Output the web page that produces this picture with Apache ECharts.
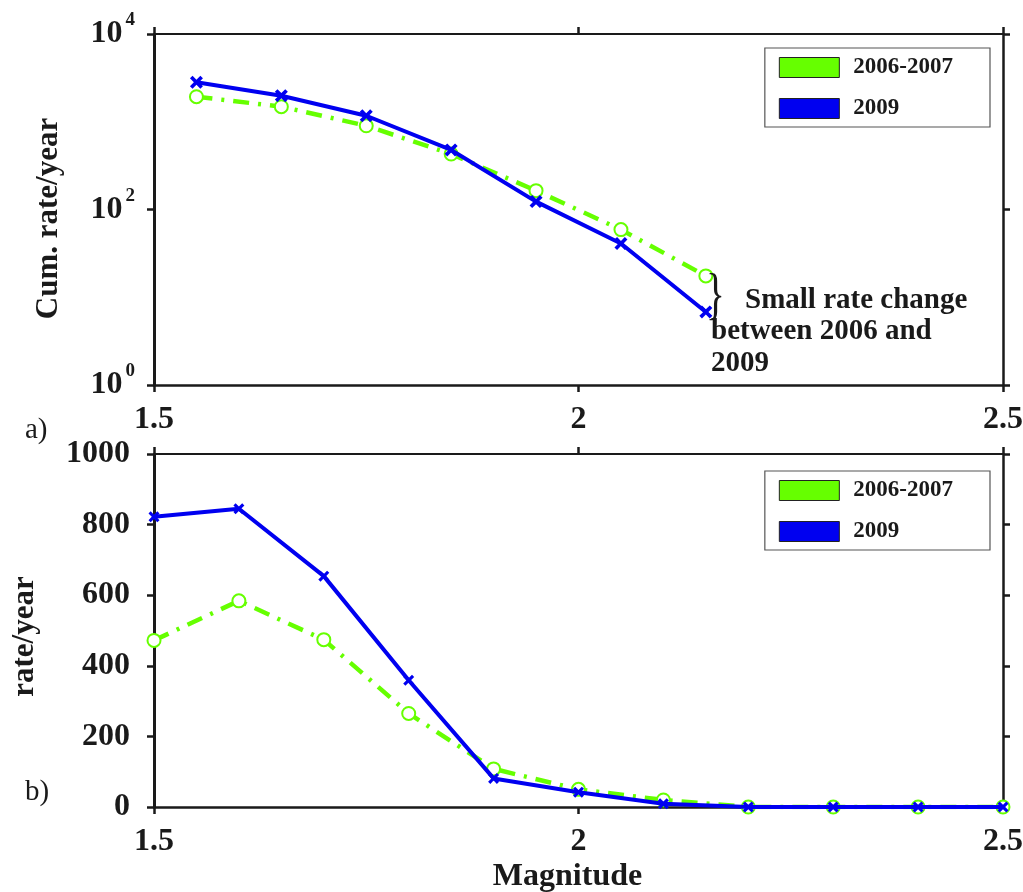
<!DOCTYPE html>
<html>
<head>
<meta charset="utf-8">
<title>Magnitude rates 2006-2007 vs 2009</title>
<script src="https://cdn.jsdelivr.net/npm/echarts@6/dist/echarts.min.js"></script>
<style>
  html, body { margin: 0; padding: 0; background: #ffffff; }
  #chart { width: 1023px; height: 892px; }
</style>
</head>
<body>
<div id="chart"></div>
<script>
// Series names
const seriesNames = ['2006-2007', '2009'];

// a) cumulative rate per year, plotted at bin centres
const cumMagnitudes = [1.55, 1.65, 1.75, 1.85, 1.95, 2.05, 2.15];
const cumRate2006 = [1930, 1485, 900, 429, 164, 59, 17.5];
const cumRate2009 = [2820, 1980, 1170, 477, 123, 41, 6.8];

// b) rate per year for each magnitude bin
const binMagnitudes = [1.5, 1.6, 1.7, 1.8, 1.9, 2.0, 2.1, 2.2, 2.3, 2.4, 2.5];
const rate2006 = [472, 584, 474, 265, 108, 50, 20, 0, 0, 0, 0];
const rate2009 = [822, 845, 654, 359, 81, 42, 9, 0, 0, 0, 0];

// Axis ticks
const magnitudeTicks = [1.5, 2, 2.5];
const logTicks = [1, 100, 10000];
const rateTicks = [0, 200, 400, 600, 800, 1000];

// Annotation in panel a)
const noteLines = ['Small rate change', 'between 2006 and', '2009'];
const panelLabels = ['a)', 'b)'];

const FONT = '"Liberation Serif", "Times New Roman", serif';
const GREEN = '#66ff00';
const BLUE = '#0000f0';
const INK = '#1a1a1a';

const pairs = (xs, ys) => xs.map((x, i) => [x, ys[i]]);

const crossPath = 'path://M0,2 L2,0 L5,3 L8,0 L10,2 L7,5 L10,8 L8,10 L5,7 L2,10 L0,8 L3,5 Z';

function magAxis(gridIndex, position, showLabels, name) {
  const ax = {
    type: 'value', gridIndex, position,
    min: magnitudeTicks[0], max: magnitudeTicks[magnitudeTicks.length - 1], interval: 0.5,
    axisLine: { onZero: false, lineStyle: { color: INK, width: position === 'bottom' ? 2.5 : 2 } },
    axisTick: { inside: false, length: 7, lineStyle: { color: INK, width: 2.5 } },
    splitLine: { show: false },
    axisLabel: {
      show: showLabels, margin: 19, color: INK,
      fontFamily: FONT, fontWeight: 'bold', fontSize: 32,
      formatter: v => String(v)
    }
  };
  if (name) {
    ax.name = name;
    ax.nameLocation = 'middle';
    ax.nameGap = 54;
    ax.nameTextStyle = { fontFamily: FONT, fontWeight: 'bold', fontSize: 32, color: INK, padding: [0, 22, 0, 0] };
  }
  return ax;
}

function logAxis(position, showLabels) {
  return {
    type: 'log', logBase: 10, gridIndex: 0, position,
    min: logTicks[0], max: logTicks[logTicks.length - 1], interval: 2,
    axisLine: { onZero: false, lineStyle: { color: INK, width: position === 'left' ? 3 : 2.5 } },
    axisTick: { inside: false, length: 7, lineStyle: { color: INK, width: 2.5 } },
    splitLine: { show: false },
    minorTick: { show: false },
    name: showLabels ? 'Cum. rate/year' : '',
    nameLocation: 'middle', nameGap: 90,
    nameTextStyle: { fontFamily: FONT, fontWeight: 'bold', fontSize: 31, color: INK, padding: [0, 18, 0, 0] },
    axisLabel: {
      show: showLabels, margin: 19, color: INK,
      formatter: v => '{b|10}{s|' + Math.round(Math.log10(v)) + '}',
      rich: {
        b: { fontFamily: FONT, fontWeight: 'bold', fontSize: 32, lineHeight: 46, color: INK },
        s: { fontFamily: FONT, fontWeight: 'bold', fontSize: 19, lineHeight: 19, color: INK, verticalAlign: 'top', padding: [0, 0, 0, 3] }
      }
    }
  };
}

function rateAxis(position, showLabels) {
  return {
    type: 'value', gridIndex: 1, position,
    min: rateTicks[0], max: rateTicks[rateTicks.length - 1], interval: 200,
    axisLine: { onZero: false, lineStyle: { color: INK, width: position === 'left' ? 3 : 2.5 } },
    axisTick: { inside: false, length: 7, lineStyle: { color: INK, width: 2.5 } },
    splitLine: { show: false },
    name: showLabels ? 'rate/year' : '',
    nameLocation: 'middle', nameGap: 114,
    nameTextStyle: { fontFamily: FONT, fontWeight: 'bold', fontSize: 31, color: INK, padding: [0, 12, 0, 0] },
    axisLabel: {
      show: showLabels, margin: 24, color: INK,
      fontFamily: FONT, fontWeight: 'bold', fontSize: 32,
      formatter: v => String(v)
    }
  };
}

function greenSeries(xi, yi, data) {
  return {
    name: seriesNames[0], type: 'line', xAxisIndex: xi, yAxisIndex: yi, data,
    symbol: 'emptyCircle', symbolSize: 13, z: 3,
    itemStyle: { color: GREEN, borderColor: GREEN, borderWidth: 2 },
    lineStyle: { color: GREEN, width: 4.5, type: [16, 9, 3, 9] },
    animation: false
  };
}

function blueSeries(xi, yi, data, size) {
  return {
    name: seriesNames[1], type: 'line', xAxisIndex: xi, yAxisIndex: yi, data,
    symbol: crossPath, symbolSize: size, z: 4,
    itemStyle: { color: BLUE, borderColor: BLUE, borderWidth: 0 },
    lineStyle: { color: BLUE, width: 4 },
    animation: false
  };
}

function legendAt(top) {
  return {
    top, right: 33, orient: 'vertical', selectedMode: false,
    backgroundColor: '#ffffff', borderColor: '#555', borderWidth: 1.2,
    padding: [8, 37, 7, 14], itemGap: 18,
    itemWidth: 60, itemHeight: 20,
    itemStyle: { borderColor: '#222', borderWidth: 1 },
    textStyle: { fontFamily: FONT, fontWeight: 'bold', fontSize: 23, color: INK, padding: [0, 0, 0, 9], lineHeight: 20 },
    data: seriesNames.map(n => ({ name: n, icon: 'rect' }))
  };
}

const textEl = (text, x, y, font, extra) => Object.assign({
  type: 'text', x, y, z: 10,
  style: { text, font, fill: INK, align: 'left', verticalAlign: 'middle' }
}, extra || {});

const option = {
  backgroundColor: '#ffffff',
  animation: false,
  grid: [
    { left: 154, right: 20, top: 34, height: 351, outerBoundsMode: 'none' },
    { left: 154, right: 20, top: 454, height: 353, outerBoundsMode: 'none' }
  ],
  xAxis: [
    magAxis(0, 'bottom', true),
    magAxis(0, 'top', false),
    magAxis(1, 'bottom', true, 'Magnitude'),
    magAxis(1, 'top', false)
  ],
  yAxis: [
    logAxis('left', true),
    logAxis('right', false),
    rateAxis('left', true),
    rateAxis('right', false)
  ],
  legend: [legendAt(48), legendAt(471)],
  series: [
    greenSeries(0, 0, pairs(cumMagnitudes, cumRate2006)),
    blueSeries(0, 0, pairs(cumMagnitudes, cumRate2009), 13),
    greenSeries(2, 2, pairs(binMagnitudes, rate2006)),
    blueSeries(2, 2, pairs(binMagnitudes, rate2009), 11)
  ],
  graphic: [
    textEl('}', 706, 298, '56px ' + FONT, { scaleX: 0.7 }),
    textEl(noteLines[0], 745, 301, 'bold 29px ' + FONT),
    textEl(noteLines[1], 711, 332, 'bold 29px ' + FONT),
    textEl(noteLines[2], 711, 364, 'bold 29px ' + FONT),
    textEl(panelLabels[0], 25, 430, '29px ' + FONT),
    textEl(panelLabels[1], 25, 792, '29px ' + FONT)
  ]
};

const chart = echarts.init(document.getElementById('chart'), null, { renderer: 'canvas' });
chart.setOption(option);
</script>
</body>
</html>
